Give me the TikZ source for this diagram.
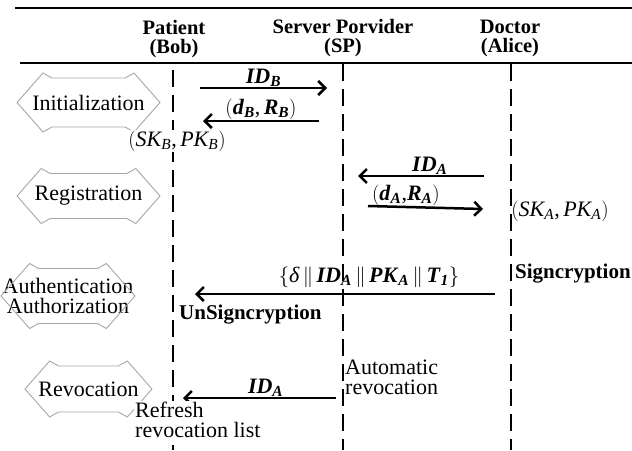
\documentclass[tikz,border=0pt]{standalone}
\usepackage{amsmath,amssymb}
\usepackage{fontspec}
\setmainfont{Liberation Serif}
\usetikzlibrary{arrows.meta}
\newcommand{\bi}[1]{\textbf{\textit{#1}}}

\begin{document}
\begin{tikzpicture}[
		x=1pt,y=-1pt,
		every node/.style={font=\fontsize{22}{20}\selectfont,inner sep=1pt},
		head/.style={font=\fontsize{20.5}{19}\selectfont\bfseries,align=center},
		phase/.style={align=center,font=\fontsize{22}{20}\selectfont},
		phaseline/.style={draw=gray!70,line width=0.9pt},
		rule/.style={line width=2.5pt},
		lifeline/.style={line width=2.8pt,dash pattern=on 17pt off 8pt},
		msg/.style={line width=2.5pt,-{Straight Barb[length=7pt,width=14pt]}},
		note/.style={anchor=west,align=left},
		]
		\useasboundingbox (0,0) rectangle (632,450);
		\draw[rule] (15,8) -- (632,8);
		\draw[rule] (20,63) -- (632,63);
		\node[head] (patient) at (174,39) {Patient\\(Bob)};
		\node[head] (server) at (343,38) {Server Porvider\\(SP)};
		\node[head] (doctor) at (510,38) {Doctor\\(Alice)};
		\coordinate (bob) at (173,70);
		\coordinate (sp) at (343,64);
		\coordinate (alice) at (511,64);
		\draw[lifeline] (bob) -- ++(0,380);
		\draw[lifeline] (sp) -- ++(0,386);
		\draw[lifeline] (alice) -- ++(0,386);
		\foreach \n/\x/\y/\l/\h/\txt in {init/88.5/102.5/71.5/29.5/Initialization,
			reg/88.5/196/71.5/27.5/Registration,
			auth/68/296/67/32.5/{Authentication\\Authorization},
			revo/88.5/389/63.5/28/Revocation}{
			\node[phase] (\n) at (\x,\y) {\txt};
			\draw[phaseline,shift={(\n.center)}] (-\l,0) -- ({-\l+0.88*\h},-\h)
				-- ({-\l+0.88*\h+9},{-\h+5}) -- ({\l-0.88*\h-9},{-\h+5})
				-- ({\l-0.88*\h},-\h) -- (\l,0) -- ({\l-0.88*\h},\h)
				-- ({\l-0.88*\h-9},{\h-5}) -- ({-\l+0.88*\h+9},{\h-5})
				-- ({-\l+0.88*\h},\h) -- cycle;
		}
		\coordinate (m1s) at (200,88);
		\coordinate (m1e) at (327,88);
		\coordinate (m2s) at (319,121);
		\coordinate (m2e) at (203,121);
		\coordinate (m3s) at (484,176);
		\coordinate (m3e) at (358,176);
		\coordinate (m4s) at (368,206);
		\coordinate (m4e) at (483,209);
		\coordinate (m5s) at (495,294);
		\coordinate (m5e) at (195,294);
		\coordinate (m6s) at (336,398);
		\coordinate (m6e) at (183,398);
		\draw[msg] (m1s) -- node[above,inner sep=0pt] (idb) {\bi{ID}$_{\bi{B}}$} (m1e);
		\draw[msg] (m2s) -- node[above,inner sep=0pt] (drb) {$\left(\bi{d}_{\bi{B}}\text{,}\,\bi{R}_{\bi{B}}\right)$} (m2e);
		\node[fill=white] (skb) at (177,141) {$\left(\textit{SK}_{\textit{B}}\text{,}\,\textit{PK}_{\textit{B}}\right)$};
		\draw[msg] (m3s) -- node[above,inner sep=0pt,pos=0.43] (ida) {\bi{ID}$_{\bi{A}}$} (m3e);
		\draw[msg] (m4s) -- node[above,inner sep=0pt,pos=0.33] (dra) {$\left(\bi{d}_{\bi{A}}\text{,}\bi{R}_{\bi{A}}\right)$} (m4e);
		\node (ska) at (560,211) {$\left(\textit{SK}_{\textit{A}}\text{,}\,\textit{PK}_{\textit{A}}\right)$};
		\draw[msg] (m5s) -- node[above=4pt,pos=0.42] (sig) {$\left\{\textit{\char"03B4}\,\|\,\bi{ID}_{\bi{A}}\,\|\,\bi{PK}_{\bi{A}}\,\|\,\bi{T}_{\bi{1}}\right\}$} (m5e);
		\node[note,font=\fontsize{21}{19}\selectfont\bfseries] (signc) at (514,274) {Signcryption};
		\node[note,font=\fontsize{21}{19}\selectfont\bfseries] (unsignc) at (178,315) {UnSigncryption};
		\draw[msg] (m6s) -- node[above,inner sep=0pt,pos=0.46] (idr) {\bi{ID}$_{\bi{A}}$} (m6e);
		\node[note] (auto) at (344,377) {Automatic\\revocation};
		\node[note,fill=white] (refresh) at (134,420) {Refresh\\revocation list};
\end{tikzpicture}
\end{document}
